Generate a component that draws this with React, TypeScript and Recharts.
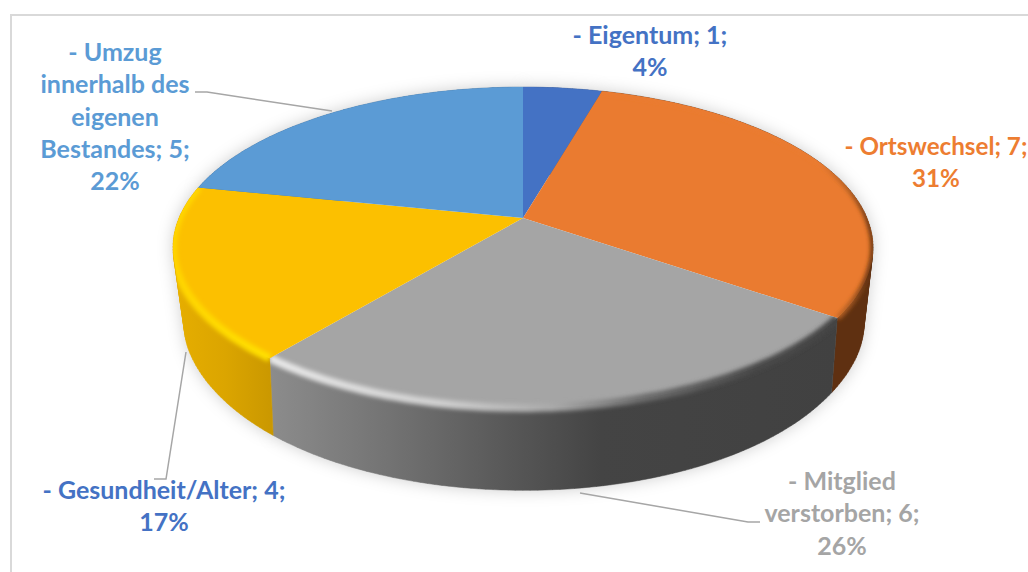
import { PieChart, Pie, Cell } from 'recharts';

// Gründe fuer den Austritt
const categories = ['Eigentum', 'Ortswechsel', 'Mitglied verstorben', 'Gesundheit/Alter', 'Umzug innerhalb des eigenen Bestandes'];
const counts = [1, 7, 6, 4, 5];
const faceColors = ['#4472C4', '#EA7B30', '#A5A5A5', '#FCC000', '#5B9BD5'];
const labelColors = ['#4472C4', '#ED7D31', '#A5A5A5', '#4472C4', '#5B9BD5'];
const labelLines = [
  ['- Eigentum; 1;', '4%'],
  ['- Ortswechsel; 7;', '31%'],
  ['- Mitglied', 'verstorben; 6;', '26%'],
  ['- Gesundheit/Alter; 4;', '17%'],
  ['- Umzug', 'innerhalb des', 'eigenen', 'Bestandes; 5;', '22%'],
];

const data = categories.map((name, i) => ({ name, value: counts[i] }));

// label placement, kept apart from the values
const labelX = [650, 936, 842, 164, 115];
const labelY = [44, 155, 490, 499, 61];
const labelSize = [25, 24.2, 25, 25, 25];
const leaders = [
  '',
  '',
  'M580,493 L748,522 L760,522',
  'M186,352 L166,479 L154,479',
  'M195,92 L207,92 L332,111',
];

const CX = 523;
const CY = 218;
const R = 344;
const FONT = 'Lato, sans-serif';

// perspective discs: top face and lower edge of the wall (bulge widens the lower edge towards its sides)
const topDisc = { dx: 0, dy: 0, r: R, s: 155, p: 0.1837, bulge: 0 };
const lowDisc = { dx: 1, dy: 75, r: 320, s: 148, p: 0.25, bulge: 0.035 };

const project = (deg: number, d: typeof topDisc, cx: number, cy: number) => {
  const t = ((90 - deg) * Math.PI) / 180;
  const X = Math.sin(t);
  const Y = Math.cos(t);
  const w = 1 + d.p * Y;
  const f = 1 + d.bulge * Math.pow(Math.abs(X), 8);
  return [cx + d.dx + (d.r * X * f) / w, cy + d.dy - (d.s * Y) / w];
};

const arcPoints = (a: number, b: number, d: typeof topDisc, cx: number, cy: number) => {
  const n = Math.max(2, Math.ceil(Math.abs(a - b)));
  const pts: number[][] = [];
  for (let i = 0; i <= n; i++) pts.push(project(a + ((b - a) * i) / n, d, cx, cy));
  return pts;
};

const toPath = (pts: number[][]) => pts.map((q) => `${q[0].toFixed(1)},${q[1].toFixed(1)}`).join(' L');

const facePath = (p: any) => `M${p.cx},${p.cy} L${toPath(arcPoints(p.startAngle, p.endAngle, topDisc, p.cx, p.cy))} Z`;

// the wall is a strip of small quads, all wound the same way, so the side silhouette stays straight
const wallPath = (p: any) => {
  const top = arcPoints(p.startAngle, p.endAngle, topDisc, p.cx, p.cy);
  const low = arcPoints(p.startAngle, p.endAngle, lowDisc, p.cx, p.cy);
  let d = '';
  for (let i = 0; i < top.length - 1; i++) {
    const quad = [top[i], top[i + 1], low[i + 1], low[i]];
    let area = 0;
    quad.forEach((q, k) => {
      const n = quad[(k + 1) % 4];
      area += q[0] * n[1] - n[0] * q[1];
    });
    if (area < 0) quad.reverse();
    d += `M${toPath(quad)} Z `;
  }
  return d;
};

const ShadowShape = (p: any) => <path d={wallPath(p)} fill="#000" fillOpacity={0.2} filter="url(#softShadow)" />;

const WallShape = (p: any) => {
  const i = categories.indexOf(p.name);
  return <path d={wallPath(p)} fill={`url(#wall${i})`} stroke={`url(#wall${i})`} strokeWidth={0.5} />;
};

const FaceShape = (p: any) => {
  const i = categories.indexOf(p.name);
  const rim = arcPoints(p.startAngle, p.endAngle, topDisc, p.cx, p.cy);
  return (
    <g>
      <clipPath id={`faceClip${i}`}>
        <path d={facePath(p)} />
        <path d={wallPath(p)} />
      </clipPath>
      <path d={facePath(p)} fill={faceColors[i]} />
      {i > 0 && i < 4 && (
        <g clipPath={`url(#faceClip${i})`}>
          <path d={`M${toPath(rim)}`} fill="none" stroke={`url(#rim${i})`} strokeWidth={i === 1 ? 5 : 8} filter="url(#rimBlur)" />
        </g>
      )}
    </g>
  );
};

const renderLabel = (p: any) => {
  const i = p.index;
  return (
    <g key={i}>
      {leaders[i] && <path d={leaders[i]} fill="none" stroke="#A6A6A6" strokeWidth={1.5} />}
      <text textAnchor="middle" fontFamily={FONT} fontWeight={700} fontSize={labelSize[i]} fill={labelColors[i]}>
        {labelLines[i].map((line, k) => (
          <tspan key={k} x={labelX[i]} y={labelY[i] + k * 32.3}>{line}</tspan>
        ))}
      </text>
    </g>
  );
};

const Grad = ({ id, x1, x2, stops }: { id: string; x1: number; x2: number; stops: [number, string][] }) => (
  <linearGradient id={id} gradientUnits="userSpaceOnUse" x1={x1} y1={0} x2={x2} y2={0}>
    {stops.map(([o, c]) => <stop key={o} offset={o} stopColor={c} />)}
  </linearGradient>
);

export default function App() {
  return (
    <div style={{ position: 'absolute', left: 0, top: 0, width: 1028, height: 572, background: '#fff', overflow: 'hidden' }}>
      <div style={{ position: 'absolute', left: 10, top: 14, right: 0, bottom: 0, borderLeft: '2px solid #D9D9D9', borderTop: '2px solid #D9D9D9' }} />
      <PieChart width={1028} height={572} margin={{ top: 0, right: 0, bottom: 0, left: 0 }} style={{ position: 'absolute', left: 0, top: 0 }}>
        <defs>
          <filter id="softShadow" x="-30%" y="-30%" width="160%" height="160%">
            <feGaussianBlur stdDeviation="8" />
          </filter>
          <filter id="rimBlur" x="-10%" y="-30%" width="120%" height="160%">
            <feGaussianBlur stdDeviation="2.2" />
          </filter>
          <Grad id="wall0" x1={500} x2={600} stops={[[0, '#2F5597'], [1, '#2F5597']]} />
          <Grad id="wall1" x1={800} x2={880} stops={[[0, '#5F3011'], [1, '#5F3011']]} />
          <Grad id="wall2" x1={270} x2={840} stops={[[0, '#8C8C8C'], [0.2, '#747474'], [0.4, '#5A5A5A'], [0.58, '#444444'], [1, '#414141']]} />
          <Grad id="wall3" x1={175} x2={275} stops={[[0, '#E6AE00'], [0.5, '#DBA500'], [1, '#C99700']]} />
          <Grad id="wall4" x1={170} x2={520} stops={[[0, '#3E75A8'], [1, '#3E75A8']]} />
          <Grad id="rim1" x1={820} x2={870} stops={[[0, '#EA7B30'], [0.6, '#A85A22'], [1, '#5F3011']]} />
          <Grad id="rim2" x1={270} x2={840} stops={[[0, '#E8E8E8'], [0.3, '#CFCFCF'], [0.5, '#A8A8A8'], [0.65, '#6E6E6E'], [0.85, '#4A4A4A'], [1, '#454545']]} />
          <Grad id="rim3" x1={170} x2={275} stops={[[0, '#FFD400'], [1, '#FFE000']]} />
        </defs>
        <Pie
          data={data}
          dataKey="value"
          nameKey="name"
          cx={CX}
          cy={CY}
          outerRadius={R}
          startAngle={90}
          endAngle={-270}
          stroke="none"
          shape={ShadowShape}
          inactiveShape={ShadowShape}
          label={false}
          labelLine={false}
          isAnimationActive={false}
        />
        <Pie
          data={data}
          dataKey="value"
          nameKey="name"
          cx={CX}
          cy={CY}
          outerRadius={R}
          startAngle={90}
          endAngle={-270}
          stroke="none"
          shape={WallShape}
          inactiveShape={WallShape}
          label={false}
          labelLine={false}
          isAnimationActive={false}
        />
        <Pie
          data={data}
          dataKey="value"
          nameKey="name"
          cx={CX}
          cy={CY}
          outerRadius={R}
          startAngle={90}
          endAngle={-270}
          stroke="none"
          shape={FaceShape}
          inactiveShape={FaceShape}
          label={renderLabel}
          labelLine={false}
          isAnimationActive={false}
        >
          {data.map((d, i) => <Cell key={d.name} fill={faceColors[i]} />)}
        </Pie>
      </PieChart>
    </div>
  );
}
